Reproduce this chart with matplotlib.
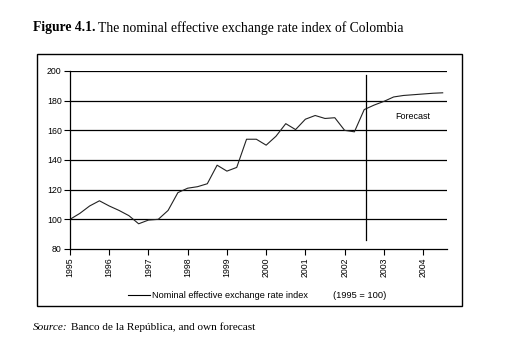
import matplotlib.pyplot as plt
from matplotlib.patches import Rectangle

# Quarterly index values, 1995 = 100
quarters = [1995 + 0.25 * i for i in range(39)]
index_values = [
    100, 104, 109, 112.5, 109, 106, 102.5, 97, 99.5, 100,
    106, 118, 121, 122, 124, 136.5, 132.5, 135, 154, 154,
    150, 156, 164.5, 160.5, 167.5, 170, 168, 168.5, 160, 159,
    174, 177, 179.5, 182.5, 183.5, 184, 184.5, 185, 185.3,
]
forecast_start = 2002.55
year_ticks = list(range(1995, 2005))
y_ticks = [80, 100, 120, 140, 160, 180, 200]

plt.rcParams["font.family"] = ["Liberation Sans", "DejaVu Sans"]

fig = plt.figure(figsize=(5.14, 3.53), dpi=100)
W, H = 514, 353

# outer box around the chart
fig.patches.append(Rectangle((37 / W, 1 - 306 / H), (462 - 37) / W, (306 - 54) / H,
                             transform=fig.transFigure, fill=False,
                             edgecolor="black", linewidth=1.0))

ax = fig.add_axes([70 / W, 1 - 249 / H, (447 - 70) / W, (249 - 71) / H])
ax.plot(quarters, index_values, color="#222222", linewidth=0.8)
ax.set_xlim(1995, 2004.61)
ax.set_ylim(80, 200)
ax.set_yticks(y_ticks)
ax.set_xticks(year_ticks)
ax.set_xticklabels([str(y) for y in year_ticks], rotation=90)
ax.tick_params(axis="both", labelsize=6.3, length=4, width=0.8, pad=2)
for v in y_ticks[1:]:
    ax.axhline(v, color="black", linewidth=0.9, zorder=0)
for s in ["top", "right"]:
    ax.spines[s].set_visible(False)
for s in ["left", "bottom"]:
    ax.spines[s].set_linewidth(0.9)

# forecast divider
ax.plot([forecast_start, forecast_start], [86, 197], color="black", linewidth=0.9,
        clip_on=False)
ax.text(2003.73, 169, "Forecast", fontsize=6.5, ha="center", va="center")

# legend
fig.add_artist(plt.Line2D([128 / W, 150 / W], [1 - 295 / H, 1 - 295 / H],
                          color="black", linewidth=0.8, transform=fig.transFigure))
fig.text(152 / W, 1 - 295 / H, "Nominal effective exchange rate index", fontsize=6.6,
         va="center")
fig.text(333 / W, 1 - 295 / H, "(1995 = 100)", fontsize=6.7, va="center")

# title and source in serif
renderer = fig.canvas.get_renderer()
t1 = fig.text(33 / W, 1 - 28 / H, "Figure 4.1.", fontsize=9.8, fontweight="bold",
              family="Liberation Serif", va="center")
bb = t1.get_window_extent(renderer)
fig.text(bb.x1 / W + 3 / W, 1 - 28 / H, "The nominal effective exchange rate index of Colombia",
         fontsize=9.8, family="Liberation Serif", va="center")
s1 = fig.text(33 / W, 1 - 327 / H, "Source:", fontsize=8.1, style="italic",
              family="Liberation Serif", va="center")
bb = s1.get_window_extent(renderer)
fig.text(bb.x1 / W + 3 / W, 1 - 327 / H, "Banco de la República, and own forecast",
         fontsize=8.1, family="Liberation Serif", va="center")

fig.savefig("out.png", dpi=100)
